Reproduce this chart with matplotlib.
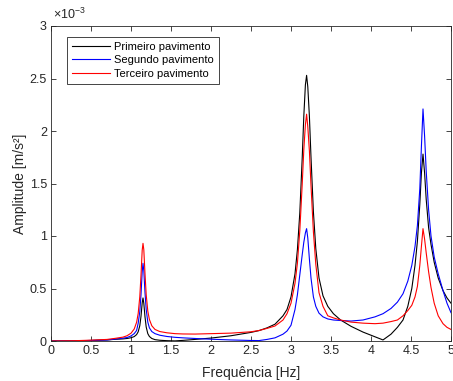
import matplotlib
matplotlib.use('Agg')
import matplotlib.pyplot as plt
from matplotlib.ticker import FuncFormatter
import numpy as np

# frequencias [Hz] onde as curvas foram lidas
freq = [0.0, 0.3, 0.5, 0.7, 0.8, 0.9, 0.95, 1.0, 1.04, 1.07, 1.09, 1.11, 1.125, 1.14, 1.15,
        1.16, 1.175, 1.19, 1.21, 1.23, 1.26, 1.30, 1.36, 1.45, 1.55, 1.65, 1.8, 2.0, 2.25,
        2.5, 2.6, 2.7, 2.8, 2.9, 2.95, 3.0, 3.05, 3.08, 3.11, 3.14, 3.16, 3.18, 3.195, 3.21,
        3.23, 3.25, 3.28, 3.31, 3.35, 3.40, 3.46, 3.53, 3.62, 3.75, 3.9, 4.05, 4.15, 4.25,
        4.33, 4.40, 4.46, 4.51, 4.55, 4.58, 4.61, 4.63, 4.65, 4.67, 4.69, 4.72, 4.75, 4.79,
        4.84, 4.90, 4.95, 5.0]

# amplitudes em 1e-3 m/s2
primeiro = [0.0, 0.002, 0.005, 0.01, 0.016, 0.02, 0.024, 0.031, 0.042, 0.061, 0.088, 0.146,
            0.235, 0.364, 0.41, 0.36, 0.23, 0.133, 0.07, 0.043, 0.024, 0.013, 0.007, 0.003,
            0.001, 0.006, 0.015, 0.028, 0.05, 0.082, 0.099, 0.125, 0.16, 0.24, 0.30, 0.42,
            0.64, 0.87, 1.22, 1.74, 2.14, 2.44, 2.53, 2.42, 2.14, 1.75, 1.23, 0.88, 0.6, 0.43,
            0.33, 0.26, 0.2, 0.14, 0.085, 0.04, 0.01, 0.065, 0.13, 0.2, 0.33, 0.5, 0.72, 0.95,
            1.3, 1.6, 1.78, 1.6, 1.35, 1.08, 0.92, 0.75, 0.6, 0.48, 0.41, 0.36]
segundo = [0.0, 0.002, 0.005, 0.01, 0.018, 0.027, 0.033, 0.048, 0.07, 0.1, 0.17, 0.28, 0.44,
           0.66, 0.74, 0.67, 0.46, 0.3, 0.18, 0.125, 0.09, 0.07, 0.055, 0.043, 0.035, 0.03,
           0.024, 0.017, 0.01, 0.005, 0.004, 0.015, 0.03, 0.065, 0.095, 0.15, 0.3, 0.44, 0.63,
           0.82, 0.94, 1.03, 1.07, 0.98, 0.78, 0.6, 0.42, 0.33, 0.265, 0.23, 0.21, 0.2, 0.195,
           0.19, 0.2, 0.23, 0.26, 0.31, 0.37, 0.45, 0.57, 0.72, 0.9, 1.1, 1.45, 1.85, 2.21,
           1.95, 1.62, 1.25, 1.0, 0.8, 0.64, 0.48, 0.36, 0.27]
terceiro = [0.0, 0.003, 0.008, 0.015, 0.025, 0.037, 0.05, 0.074, 0.114, 0.178, 0.263, 0.423,
            0.628, 0.865, 0.93, 0.87, 0.64, 0.44, 0.285, 0.205, 0.145, 0.11, 0.09, 0.078,
            0.07, 0.067, 0.066, 0.07, 0.075, 0.088, 0.1, 0.12, 0.143, 0.20, 0.26, 0.36, 0.55,
            0.74, 1.05, 1.49, 1.82, 2.06, 2.16, 2.04, 1.81, 1.48, 1.04, 0.73, 0.46, 0.33, 0.24,
            0.22, 0.2, 0.18, 0.17, 0.165, 0.17, 0.185, 0.2, 0.24, 0.29, 0.34, 0.42, 0.52, 0.72,
            0.9, 1.07, 0.97, 0.84, 0.66, 0.51, 0.36, 0.24, 0.165, 0.13, 0.11]

nomes = ['Primeiro pavimento', 'Segundo pavimento', 'Terceiro pavimento']

plt.rcParams['font.family'] = ['Liberation Sans', 'DejaVu Sans']
plt.rcParams['mathtext.fontset'] = 'custom'
plt.rcParams['mathtext.rm'] = 'Liberation Sans'

cinza = (0.15, 0.15, 0.15)

fig = plt.figure(figsize=(4.53, 3.81), dpi=100)
ax = fig.add_axes([51 / 453, 40 / 381, 400 / 453, 315 / 381])

f = np.array(freq)
ax.plot(f, np.array(primeiro) * 1e-3, color='k', lw=0.8, label=nomes[0])
ax.plot(f, np.array(segundo) * 1e-3, color=(0, 0, 1), lw=0.8, label=nomes[1])
ax.plot(f, np.array(terceiro) * 1e-3, color=(1, 0, 0), lw=0.8, label=nomes[2])

ax.set_xlim(0, 5)
ax.set_ylim(0, 3e-3)
ax.set_xticks(np.arange(0, 5.01, 0.5))
ax.set_yticks(np.arange(0, 3.01e-3, 0.5e-3))
ax.xaxis.set_major_formatter(FuncFormatter(lambda v, p: '%g' % round(v, 2)))
ax.yaxis.set_major_formatter(FuncFormatter(lambda v, p: '%g' % round(v * 1e3, 2)))
ax.tick_params(direction='in', top=True, right=True, length=3.5, width=0.6,
               labelsize=9, color=cinza, labelcolor=cinza, pad=3)
for s in ax.spines.values():
    s.set_color(cinza)
    s.set_linewidth(0.6)

ax.text(0.005, 1.012, r'$\mathregular{\times 10^{-3}}$', transform=ax.transAxes,
        ha='left', va='bottom', fontsize=9, color=cinza)

ax.set_xlabel('Frequência [Hz]', fontsize=10, color=cinza, labelpad=6)
ax.set_ylabel('Amplitude [m/s²]', fontsize=10, color=cinza, labelpad=2)

leg = ax.legend(loc='upper left', bbox_to_anchor=(0.04, 0.965), borderaxespad=0,
                fontsize=8, fancybox=False, framealpha=1, edgecolor=cinza,
                handlelength=3.4, handletextpad=0.4, labelspacing=0.3, borderpad=0.45)
leg.get_frame().set_linewidth(0.6)

fig.savefig('out.png', dpi=100)
